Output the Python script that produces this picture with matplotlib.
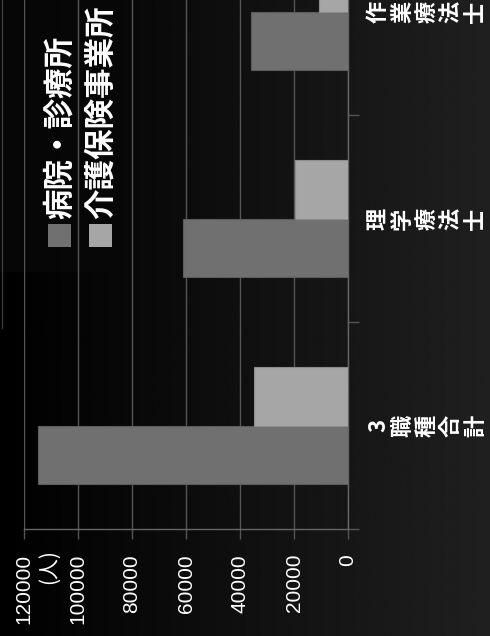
import numpy as np
import matplotlib
matplotlib.use('Agg')
import matplotlib.pyplot as plt
import matplotlib.transforms as mtransforms
from matplotlib.patches import Rectangle

# staff counts by job type (persons)
categories = ['3職種合計', '理学療法士', '作業療法士']
hospital = [115000, 61000, 35800]
care = [35000, 19800, 10600]
series_names = ['病院・診療所', '介護保険事業所']
value_ticks = [0, 20000, 40000, 60000, 80000, 100000, 120000]

W, H = 490, 636
col_hosp = '#707070'
col_care = '#a6a6a6'
grid_col = '#555555'
jp = ['Noto Sans CJK JP', 'DejaVu Sans']

fig = plt.figure(figsize=(W / 100, H / 100), dpi=100)
fig.patch.set_facecolor('black')

# dark horizontal gradient behind everything
bg = fig.add_axes([0, 0, 1, 1], zorder=-1)
grad = np.linspace(0.0, 0.125, 256).reshape(1, -1)
bg.imshow(grad, aspect='auto', cmap='gray', vmin=0, vmax=1, extent=[0, W, H, 0])
bg.add_patch(Rectangle((0, 0), 133, 272, facecolor='#080808', edgecolor='none', alpha=0.8))
bg.plot([1.5, 1.5], [0, 328], color='#3a3a3a', lw=1)
bg.set_xlim(0, W)
bg.set_ylim(H, 0)
bg.axis('off')

# plot area (value axis drawn right-to-left, categories bottom-to-top)
ax = fig.add_axes([24 / W, 1 - 529 / H, (348 - 24) / W, 529 / H])
ax.set_facecolor('none')
pos = np.arange(len(categories))
bh = 0.285
ax.barh(pos - bh / 2, hospital, height=bh, color=col_hosp, edgecolor='#5c5c5c', lw=0.8, zorder=3)
ax.barh(pos + bh / 2, care, height=bh, color=col_care, edgecolor='#8c8c8c', lw=0.8, zorder=3)

ax.set_xlim(120000, 0)
ax.set_ylim(-0.5, -0.5 + 529 / 207)
ax.set_xticks(value_ticks)
ax.set_xticklabels([str(v) for v in value_ticks], rotation=90, family='Liberation Sans',
                   fontsize=15, color='white')
ax.xaxis.grid(True, color=grid_col, lw=1, zorder=0)
ax.set_axisbelow(True)
ax.set_yticks([-0.5, 0.5, 1.5])
ax.set_yticklabels([])
ax.tick_params(axis='y', left=False, right=True, direction='out', length=8, color=grid_col, width=1)
ax.tick_params(axis='x', direction='out', length=7, color=grid_col, width=1, pad=11)
for s in ['left', 'top']:
    ax.spines[s].set_visible(False)
for s in ['right', 'bottom']:
    ax.spines[s].set_color('#666666')
    ax.spines[s].set_linewidth(1)

# category labels, one character per line
lab_tr = mtransforms.offset_copy(ax.transData, fig=fig, x=19, y=0, units='dots')
for i, name in enumerate(categories):
    ax.text(0, i, '\n'.join(name), transform=lab_tr, rotation=90, ha='left', va='center',
            multialignment='center', linespacing=1.07, fontsize=16, fontweight='bold',
            color='white', family=jp, clip_on=False)

# unit label
fig.text(49 / W, 1 - 549 / H, '(人)', rotation=90, ha='center', va='top', fontsize=15,
         color='white', family=jp)

# legend
for cx, col, name in [(59.5, col_hosp, series_names[0]), (100.5, col_care, series_names[1])]:
    fig.add_artist(Rectangle(((cx - 11.5) / W, 1 - 247 / H), 23 / W, 23 / H,
                             transform=fig.transFigure, facecolor=col, edgecolor='none'))
    fig.text(cx / W, 1 - 219 / H, name, rotation=90, ha='center', va='bottom', fontsize=22,
             fontweight='bold', color='white', family=jp)

fig.savefig('out.png', dpi=100, facecolor=fig.get_facecolor())
